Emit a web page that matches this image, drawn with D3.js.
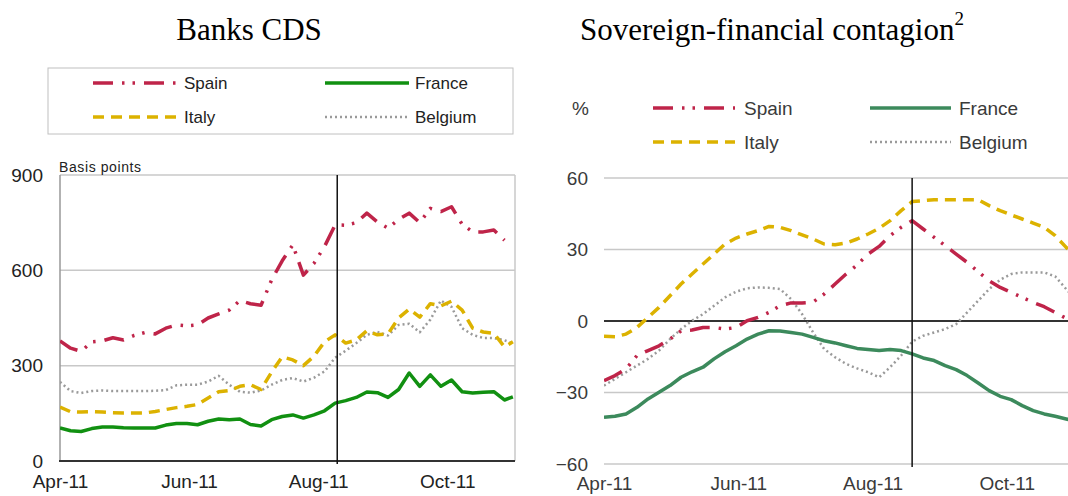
<!DOCTYPE html>
<html>
<head>
<meta charset="utf-8">
<script src="https://cdn.jsdelivr.net/npm/d3@7/dist/d3.min.js"></script>
<style>
body{margin:0;background:#fff;}
svg{display:block;}
text{font-family:"Liberation Sans",Arial,sans-serif;}
</style>
</head>
<body>
<svg id="Mainback" width="1068" height="496"></svg>
<script>
// sample dates (every 5 days, last one 1 Nov)
var DATES = ["2011-04-01","2011-04-06","2011-04-11","2011-04-16","2011-04-21","2011-04-26",
  "2011-05-01","2011-05-06","2011-05-11","2011-05-16","2011-05-21","2011-05-26","2011-05-31",
  "2011-06-05","2011-06-10","2011-06-15","2011-06-20","2011-06-25","2011-06-30",
  "2011-07-05","2011-07-10","2011-07-15","2011-07-20","2011-07-25","2011-07-30",
  "2011-08-04","2011-08-09","2011-08-14","2011-08-19","2011-08-24","2011-08-29",
  "2011-09-03","2011-09-08","2011-09-13","2011-09-18","2011-09-23","2011-09-28",
  "2011-10-03","2011-10-08","2011-10-13","2011-10-18","2011-10-23","2011-10-28","2011-11-01"];

var MONTH_TICKS = ["2011-04-01","2011-06-01","2011-08-01","2011-10-01"];

// Banks CDS, basis points
var CDS_TICKS = [0, 300, 600, 900];
var CDS_SPAIN = [378,355,345,375,378,388,381,395,404,400,418,428,425,428,450,463,475,505,495,490,570,
  630,680,585,622,675,743,742,750,780,752,733,760,780,750,795,785,800,745,721,721,727,695,null];
var CDS_FRANCE = [104,95,93,102,107,107,105,104,104,104,113,118,118,114,125,132,130,132,115,110,130,
  140,145,135,145,158,182,190,200,217,215,200,225,277,235,271,235,255,218,214,216,218,192,202];
var CDS_ITALY = [170,155,154,155,154,152,151,151,151,156,162,168,172,178,198,218,222,235,240,225,280,
  328,318,300,330,375,397,371,381,410,397,400,450,478,453,495,488,503,475,418,406,402,359,375];
var CDS_BELGIUM = [249,220,214,220,222,220,220,220,220,221,223,238,240,240,250,268,240,218,215,222,240,
  255,261,250,262,282,325,347,371,397,406,395,428,432,405,445,505,485,418,397,387,387,380,370];

// Sovereign-financial contagion, %
var CONT_TICKS = [-60, -30, 0, 30, 60];
var CONT_SPAIN = [-25,-22.9,-20.1,-14.5,-12.4,-10.4,-7.6,-4.1,-3.8,-2.7,-2.7,-3.4,-2.7,0.1,1.5,3.6,6.4,
  7.6,7.6,7.9,11.3,15.5,19.7,23.5,28.1,31.3,35.8,39.3,42.1,38.6,35.1,31.6,28.1,24.6,20.7,16.9,14.1,
  12,9.9,7.8,6,3.6,1.1,-0.8];
var CONT_FRANCE = [-40.4,-40,-39,-36.2,-32.7,-29.9,-27.1,-23.6,-21.3,-19.4,-15.9,-12.9,-10.4,-7.6,-5.5,
  -4.1,-4.2,-4.8,-5.5,-6.9,-8.3,-9.2,-10.4,-11.5,-12,-12.4,-12,-12.4,-13.8,-15.5,-16.6,-18.7,-20.4,
  -22.9,-26,-29.2,-31.6,-33,-35.5,-37.6,-39,-40,-41.1,-42];
var CONT_ITALY = [-6.4,-6.6,-5.5,-2.7,1.5,5.7,10.6,15.5,19.7,23.9,28.1,32.3,34.8,36.5,37.9,39.7,39.3,
  37.9,36.1,34.4,32.3,32,32.7,34.4,36.5,38.9,42.1,46.3,50.1,50.5,50.9,50.9,50.9,50.9,50.9,48.4,46.3,
  44.5,42.8,41.1,39.3,35.8,30.9,27.4];
var CONT_BELGIUM = [-27.1,-24.3,-21.5,-18.7,-15.9,-12.4,-7.6,-3.4,0.1,2.9,6.4,9.9,12.3,13.7,14.1,13.9,
  13.4,9.2,2.9,-4.8,-11.7,-15.2,-18,-19.9,-21.5,-23.6,-19.4,-14.5,-8.7,-6.2,-4.8,-3.4,-1.3,3.6,8.5,
  13.4,17.3,19.7,20.4,20.4,20.4,18.7,13.4,9.2];

var parseDate = d3.timeParse("%Y-%m-%d");
var fmtMonth = d3.timeFormat("%b-%y");

var STYLES = {
  Spain:   {dash:"20,9,2.5,8,2.5,9", width:3.5},
  France:  {dash:null, width:3.5},
  Italy:   {dash:"11,7", width:3.5},
  Belgium: {dash:"2,3", width:2.5}
};

var SVG = d3.select("svg#Mainback");
SVG.append("rect").attr("width",1068).attr("height",496).attr("fill","#fff");

function seriesData(vals){
  return vals.map(function(v,i){ return {date: parseDate(DATES[i]), value: v}; });
}

function drawPanel(p){
  var g = SVG.append("g");
  var x = d3.scaleTime().domain([parseDate(p.start), parseDate(p.end)]).range([p.x0, p.x1]);
  var y = d3.scaleLinear().domain([p.ticks[0], p.ticks[p.ticks.length-1]]).range([p.y0, p.y1]);

  g.append("clipPath").attr("id", p.id+"clip")
    .append("rect").attr("x",p.x0).attr("y",p.y1-10).attr("width",Math.min(p.x1,1068)-p.x0).attr("height",p.y0-p.y1+20);

  // grid
  g.selectAll("line.grid").data(p.ticks.filter(function(t){return t!==0;}))
    .enter().append("line").attr("class","grid")
    .attr("x1",p.x0).attr("x2",Math.min(p.x1,1068))
    .attr("y1",function(d){return y(d);}).attr("y2",function(d){return y(d);})
    .attr("stroke","#c8c8c8").attr("stroke-width",1.5);

  // y labels
  var yAxis = d3.axisLeft(y).tickValues(p.ticks).tickSize(0).tickPadding(0);
  var ya = g.append("g").attr("transform","translate("+p.labelX+",0)").call(yAxis);
  ya.select(".domain").remove();
  ya.selectAll("text").attr("font-size",19).attr("fill",p.textColor)
    .attr("font-family","'Liberation Sans',Arial,sans-serif");

  // x labels
  var xAxis = d3.axisBottom(x).tickValues(MONTH_TICKS.map(parseDate)).tickFormat(fmtMonth).tickSize(0).tickPadding(0);
  var xa = g.append("g").attr("transform","translate(0,"+p.xLabelY+")").call(xAxis);
  xa.select(".domain").remove();
  xa.selectAll("text").attr("font-size",19).attr("fill",p.textColor).attr("dy",0)
    .attr("font-family","'Liberation Sans',Arial,sans-serif");

  p.frame(g, x, y);

  // series
  var line = d3.line().defined(function(d){return d.value!==null;})
    .x(function(d){return x(d.date);}).y(function(d){return y(d.value);});
  var lines = g.append("g").attr("clip-path","url(#"+p.id+"clip)");
  p.series.forEach(function(s){
    lines.append("path").datum(seriesData(s.values))
      .attr("d",line).attr("fill","none")
      .attr("stroke",s.color).attr("stroke-width",STYLES[s.name].width)
      .attr("stroke-dasharray",STYLES[s.name].dash)
      .attr("stroke-linejoin","round");
  });

  // vertical marker
  g.append("line")
    .attr("x1",x(parseDate(p.marker))).attr("x2",x(parseDate(p.marker)))
    .attr("y1",p.y1).attr("y2",p.y0+3)
    .attr("stroke","#111").attr("stroke-width",1.5);

  // legend
  p.legend.forEach(function(l){
    var s = STYLES[l.name];
    g.append("line").attr("x1",l.x).attr("x2",l.x+l.len).attr("y1",l.y).attr("y2",l.y)
      .attr("stroke",l.color).attr("stroke-width",s.width).attr("stroke-dasharray",s.dash);
    g.append("text").attr("x",l.tx).attr("y",l.y).attr("dy","0.35em")
      .attr("font-size",p.legendSize).attr("fill",p.textColor).text(l.name);
  });
}

// Titles
SVG.append("text").attr("x",249).attr("y",40).attr("text-anchor","middle")
  .style("font-family","'Liberation Serif','Times New Roman',serif").attr("font-size",31).attr("fill","#000")
  .text("Banks CDS");
var t2 = SVG.append("text").attr("x",580).attr("y",40)
  .style("font-family","'Liberation Serif','Times New Roman',serif").attr("font-size",31).attr("fill","#000")
  .text("Sovereign-financial contagion");
t2.append("tspan").attr("dy",-15).attr("font-size",19).text("2");

// Left panel: Banks CDS
drawPanel({
  id:"cds", start:"2011-04-01", end:"2011-11-02", x0:60, x1:515, y0:461, y1:175,
  ticks:CDS_TICKS, labelX:43, xLabelY:488, textColor:"#222", marker:"2011-08-10", legendSize:17,
  series:[
    {name:"Belgium", values:CDS_BELGIUM, color:"#9a9a9a"},
    {name:"Italy", values:CDS_ITALY, color:"#dcb200"},
    {name:"France", values:CDS_FRANCE, color:"#119011"},
    {name:"Spain", values:CDS_SPAIN, color:"#bf2449"}
  ],
  legend:[
    {name:"Spain", color:"#bf2449", x:93, len:83, y:83, tx:184},
    {name:"France", color:"#119011", x:325, len:84, y:83, tx:415},
    {name:"Italy", color:"#dcb200", x:93, len:83, y:117, tx:184},
    {name:"Belgium", color:"#9a9a9a", x:325, len:84, y:117, tx:415}
  ],
  frame:function(g,x,y){
    g.append("rect").attr("x",48).attr("y",68).attr("width",465).attr("height",66)
      .attr("fill","none").attr("stroke","#c0c0c0").attr("stroke-width",1);
    g.append("line").attr("x1",515).attr("x2",515).attr("y1",175).attr("y2",461)
      .attr("stroke","#c8c8c8").attr("stroke-width",1.5);
    g.append("line").attr("x1",60).attr("x2",60).attr("y1",175).attr("y2",461)
      .attr("stroke","#999").attr("stroke-width",1.5);
    g.append("line").attr("x1",59).attr("x2",515).attr("y1",461).attr("y2",461)
      .attr("stroke","#333").attr("stroke-width",2);
    g.append("text").attr("x",59).attr("y",172).attr("font-size",14)
      .attr("letter-spacing",0.6).attr("fill","#222").text("Basis points");
  }
});

// Right panel: contagion
drawPanel({
  id:"cont", start:"2011-04-01", end:"2011-11-01", x0:604, x1:1075, y0:464, y1:178,
  ticks:CONT_TICKS, labelX:588, xLabelY:490, textColor:"#3a3a3a", marker:"2011-08-19", legendSize:19,
  series:[
    {name:"Belgium", values:CONT_BELGIUM, color:"#9a9a9a"},
    {name:"Italy", values:CONT_ITALY, color:"#dcb200"},
    {name:"France", values:CONT_FRANCE, color:"#3c8a5c"},
    {name:"Spain", values:CONT_SPAIN, color:"#bf2449"}
  ],
  legend:[
    {name:"Spain", color:"#bf2449", x:653, len:82, y:108, tx:744},
    {name:"France", color:"#3c8a5c", x:870, len:81, y:108, tx:959},
    {name:"Italy", color:"#dcb200", x:653, len:82, y:142, tx:744},
    {name:"Belgium", color:"#9a9a9a", x:870, len:81, y:142, tx:959}
  ],
  frame:function(g,x,y){
    g.append("line").attr("x1",604).attr("x2",1068).attr("y1",y(0)).attr("y2",y(0))
      .attr("stroke","#333").attr("stroke-width",2);
    g.append("text").attr("x",572).attr("y",108).attr("dy","0.35em").attr("font-size",19)
      .attr("fill","#3a3a3a").text("%");
  }
});
</script>
</body>
</html>
